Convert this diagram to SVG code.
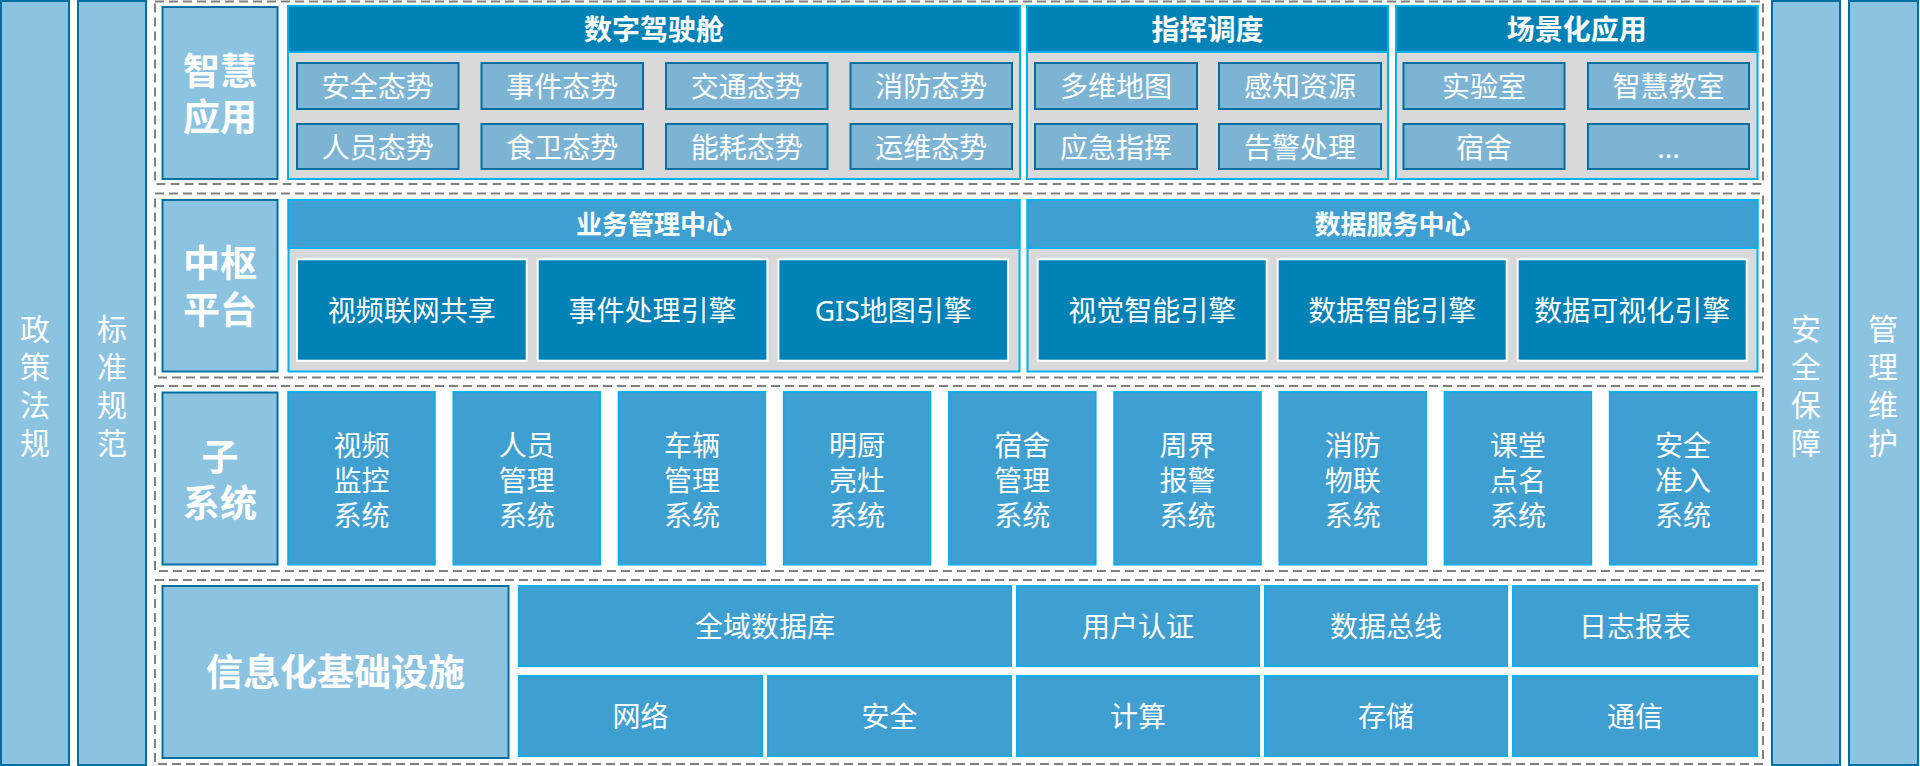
<svg xmlns="http://www.w3.org/2000/svg" width="1920" height="766" viewBox="0 0 1920 766">
<style>
text{font-family:"Noto Sans","Noto Sans CJK SC",sans-serif;fill:#fff;text-anchor:middle;dominant-baseline:central}
.bar{fill:#8CC3E1;stroke:#006FA0;stroke-width:2}
.lbl{fill:#8CC3E1;stroke:#006FA0;stroke-width:2}
.dash{fill:none;stroke:#808080;stroke-width:2;stroke-dasharray:9 5}
.panel{fill:#D9D9D9;stroke:#00B0F0;stroke-width:2}
.hd1{fill:#0082B7;stroke:#00B0F0;stroke-width:2}
.hd2{fill:#3F9FD1;stroke:#00B0F0;stroke-width:2}
.sb{fill:#7DB4D3;stroke:#006FA0;stroke-width:2}
.eng{fill:#0082B7;stroke:#fff;stroke-width:2}
.sub{fill:#3F9FD1;stroke:#00B0F0;stroke-width:1.5}
.t28{font-size:28px}
.h28{font-size:28px;font-weight:bold}
.h26{font-size:26px;font-weight:bold}
.big{font-size:37px;font-weight:bold}
.side{font-size:30px}
</style>

<!-- side bars -->
<g id="bar-policy">
<rect class="bar" x="1" y="1" width="68" height="764"/>
<text class="side"><tspan x="35" y="328">政</tspan><tspan x="35" y="366">策</tspan><tspan x="35" y="404">法</tspan><tspan x="35" y="442">规</tspan></text>
</g>
<g id="bar-standard">
<rect class="bar" x="78" y="1" width="68" height="764"/>
<text class="side"><tspan x="112" y="328">标</tspan><tspan x="112" y="366">准</tspan><tspan x="112" y="404">规</tspan><tspan x="112" y="442">范</tspan></text>
</g>
<g id="bar-security">
<rect class="bar" x="1772" y="1" width="68" height="764"/>
<text class="side"><tspan x="1806" y="328">安</tspan><tspan x="1806" y="366">全</tspan><tspan x="1806" y="404">保</tspan><tspan x="1806" y="442">障</tspan></text>
</g>
<g id="bar-maintain">
<rect class="bar" x="1849" y="1" width="69" height="764"/>
<text class="side"><tspan x="1883" y="328">管</tspan><tspan x="1883" y="366">理</tspan><tspan x="1883" y="404">维</tspan><tspan x="1883" y="442">护</tspan></text>
</g>

<!-- layer frames -->
<g id="frames">
<rect class="dash" x="155" y="1.5" width="1608" height="182.5"/>
<rect class="dash" x="155" y="193.5" width="1608" height="184"/>
<rect class="dash" x="155" y="386" width="1608" height="185"/>
<rect class="dash" x="155" y="580" width="1608" height="184"/>
</g>

<!-- Row 1: 智慧应用 -->
<g id="label-app">
<rect class="lbl" x="162.5" y="7" width="115" height="172"/>
<text class="big"><tspan x="220" y="70">智慧</tspan><tspan x="220" y="116">应用</tspan></text>
</g>

<g id="panel-cockpit">
<rect class="panel" x="288" y="6" width="732" height="173"/>
<rect class="hd1" x="288" y="6" width="732" height="46"/>
<text class="h28" x="654" y="29">数字驾驶舱</text>
<rect class="sb" x="297" y="63" width="161.5" height="46"/><text class="t28" x="377.75" y="86">安全态势</text>
<rect class="sb" x="481.5" y="63" width="161.5" height="46"/><text class="t28" x="562.25" y="86">事件态势</text>
<rect class="sb" x="666" y="63" width="161.5" height="46"/><text class="t28" x="746.75" y="86">交通态势</text>
<rect class="sb" x="850.5" y="63" width="161.5" height="46"/><text class="t28" x="931.25" y="86">消防态势</text>
<rect class="sb" x="297" y="124" width="161.5" height="45"/><text class="t28" x="377.75" y="146.5">人员态势</text>
<rect class="sb" x="481.5" y="124" width="161.5" height="45"/><text class="t28" x="562.25" y="146.5">食卫态势</text>
<rect class="sb" x="666" y="124" width="161.5" height="45"/><text class="t28" x="746.75" y="146.5">能耗态势</text>
<rect class="sb" x="850.5" y="124" width="161.5" height="45"/><text class="t28" x="931.25" y="146.5">运维态势</text>
</g>

<g id="panel-command">
<rect class="panel" x="1027" y="6" width="361" height="173"/>
<rect class="hd1" x="1027" y="6" width="361" height="46"/>
<text class="h28" x="1207.5" y="29">指挥调度</text>
<rect class="sb" x="1035" y="63" width="162" height="46"/><text class="t28" x="1116" y="86">多维地图</text>
<rect class="sb" x="1219" y="63" width="162" height="46"/><text class="t28" x="1300" y="86">感知资源</text>
<rect class="sb" x="1035" y="124" width="162" height="45"/><text class="t28" x="1116" y="146.5">应急指挥</text>
<rect class="sb" x="1219" y="124" width="162" height="45"/><text class="t28" x="1300" y="146.5">告警处理</text>
</g>

<g id="panel-scene">
<rect class="panel" x="1396" y="6" width="361.5" height="173"/>
<rect class="hd1" x="1396" y="6" width="361.5" height="46"/>
<text class="h28" x="1576.75" y="29">场景化应用</text>
<rect class="sb" x="1403.5" y="63" width="161" height="46"/><text class="t28" x="1484" y="86">实验室</text>
<rect class="sb" x="1588" y="63" width="161" height="46"/><text class="t28" x="1668.5" y="86">智慧教室</text>
<rect class="sb" x="1403.5" y="124" width="161" height="45"/><text class="t28" x="1484" y="146.5">宿舍</text>
<rect class="sb" x="1588" y="124" width="161" height="45"/><text class="t28" x="1668.5" y="146.5">...</text>
</g>

<!-- Row 2: 中枢平台 -->
<g id="label-hub">
<rect class="lbl" x="162.5" y="200" width="115" height="171.5"/>
<text class="big"><tspan x="220" y="262">中枢</tspan><tspan x="220" y="309">平台</tspan></text>
</g>

<g id="panel-business">
<rect class="panel" x="288.5" y="200" width="731" height="171.5"/>
<rect class="hd2" x="288.5" y="200" width="731" height="48"/>
<text class="h26" x="654" y="223.5">业务管理中心</text>
<rect class="eng" x="297" y="259.3" width="229.7" height="101.4"/><text class="t28" x="411.85" y="310">视频联网共享</text>
<rect class="eng" x="537.7" y="259.3" width="229.7" height="101.4"/><text class="t28" x="652.55" y="310">事件处理引擎</text>
<rect class="eng" x="778.4" y="259.3" width="229.7" height="101.4"/><text class="t28" x="893.25" y="310">GIS地图引擎</text>
</g>

<g id="panel-data">
<rect class="panel" x="1027.5" y="200" width="730" height="171.5"/>
<rect class="hd2" x="1027.5" y="200" width="730" height="48"/>
<text class="h26" x="1392.5" y="223.5">数据服务中心</text>
<rect class="eng" x="1037.7" y="259.3" width="229" height="101.4"/><text class="t28" x="1152.2" y="310">视觉智能引擎</text>
<rect class="eng" x="1277.7" y="259.3" width="229" height="101.4"/><text class="t28" x="1392.2" y="310">数据智能引擎</text>
<rect class="eng" x="1517.7" y="259.3" width="229" height="101.4"/><text class="t28" x="1632.2" y="310">数据可视化引擎</text>
</g>

<!-- Row 3: 子系统 -->
<g id="label-sub">
<rect class="lbl" x="162.5" y="392.5" width="115" height="172"/>
<text class="big"><tspan x="220" y="456">子</tspan><tspan x="220" y="502">系统</tspan></text>
</g>

<g id="sub-video"><rect class="sub" x="288" y="391.8" width="147" height="173"/>
<text class="t28"><tspan x="361.5" y="445">视频</tspan><tspan x="361.5" y="480">监控</tspan><tspan x="361.5" y="515">系统</tspan></text></g>
<g id="sub-person"><rect class="sub" x="453.2" y="391.8" width="147" height="173"/>
<text class="t28"><tspan x="526.7" y="445">人员</tspan><tspan x="526.7" y="480">管理</tspan><tspan x="526.7" y="515">系统</tspan></text></g>
<g id="sub-vehicle"><rect class="sub" x="618.4" y="391.8" width="147" height="173"/>
<text class="t28"><tspan x="691.9" y="445">车辆</tspan><tspan x="691.9" y="480">管理</tspan><tspan x="691.9" y="515">系统</tspan></text></g>
<g id="sub-kitchen"><rect class="sub" x="783.6" y="391.8" width="147" height="173"/>
<text class="t28"><tspan x="857.1" y="445">明厨</tspan><tspan x="857.1" y="480">亮灶</tspan><tspan x="857.1" y="515">系统</tspan></text></g>
<g id="sub-dorm"><rect class="sub" x="948.8" y="391.8" width="147" height="173"/>
<text class="t28"><tspan x="1022.3" y="445">宿舍</tspan><tspan x="1022.3" y="480">管理</tspan><tspan x="1022.3" y="515">系统</tspan></text></g>
<g id="sub-perimeter"><rect class="sub" x="1114" y="391.8" width="147" height="173"/>
<text class="t28"><tspan x="1187.5" y="445">周界</tspan><tspan x="1187.5" y="480">报警</tspan><tspan x="1187.5" y="515">系统</tspan></text></g>
<g id="sub-fire"><rect class="sub" x="1279.2" y="391.8" width="147" height="173"/>
<text class="t28"><tspan x="1352.7" y="445">消防</tspan><tspan x="1352.7" y="480">物联</tspan><tspan x="1352.7" y="515">系统</tspan></text></g>
<g id="sub-rollcall"><rect class="sub" x="1444.4" y="391.8" width="147" height="173"/>
<text class="t28"><tspan x="1517.9" y="445">课堂</tspan><tspan x="1517.9" y="480">点名</tspan><tspan x="1517.9" y="515">系统</tspan></text></g>
<g id="sub-access"><rect class="sub" x="1609.6" y="391.8" width="147" height="173"/>
<text class="t28"><tspan x="1683.1" y="445">安全</tspan><tspan x="1683.1" y="480">准入</tspan><tspan x="1683.1" y="515">系统</tspan></text></g>

<!-- Row 4: 信息化基础设施 -->
<g id="label-infra">
<rect class="lbl" x="162.5" y="586" width="346" height="172"/>
<text class="big" x="335.5" y="671">信息化基础设施</text>
</g>
<g id="infra-db"><rect class="sub" x="518.8" y="585.8" width="492.5" height="80.5"/><text class="t28" x="765" y="626">全域数据库</text></g>
<g id="infra-auth"><rect class="sub" x="1016.8" y="585.8" width="242.5" height="80.5"/><text class="t28" x="1138" y="626">用户认证</text></g>
<g id="infra-bus"><rect class="sub" x="1264.8" y="585.8" width="242.5" height="80.5"/><text class="t28" x="1386" y="626">数据总线</text></g>
<g id="infra-log"><rect class="sub" x="1512.8" y="585.8" width="244.5" height="80.5"/><text class="t28" x="1635" y="626">日志报表</text></g>
<g id="infra-net"><rect class="sub" x="518.8" y="675.8" width="243.5" height="80.5"/><text class="t28" x="640.5" y="716">网络</text></g>
<g id="infra-sec"><rect class="sub" x="767.8" y="675.8" width="243.5" height="80.5"/><text class="t28" x="889.5" y="716">安全</text></g>
<g id="infra-compute"><rect class="sub" x="1016.8" y="675.8" width="242.5" height="80.5"/><text class="t28" x="1138" y="716">计算</text></g>
<g id="infra-storage"><rect class="sub" x="1264.8" y="675.8" width="242.5" height="80.5"/><text class="t28" x="1386" y="716">存储</text></g>
<g id="infra-comm"><rect class="sub" x="1512.8" y="675.8" width="244.5" height="80.5"/><text class="t28" x="1635" y="716">通信</text></g>
</svg>
